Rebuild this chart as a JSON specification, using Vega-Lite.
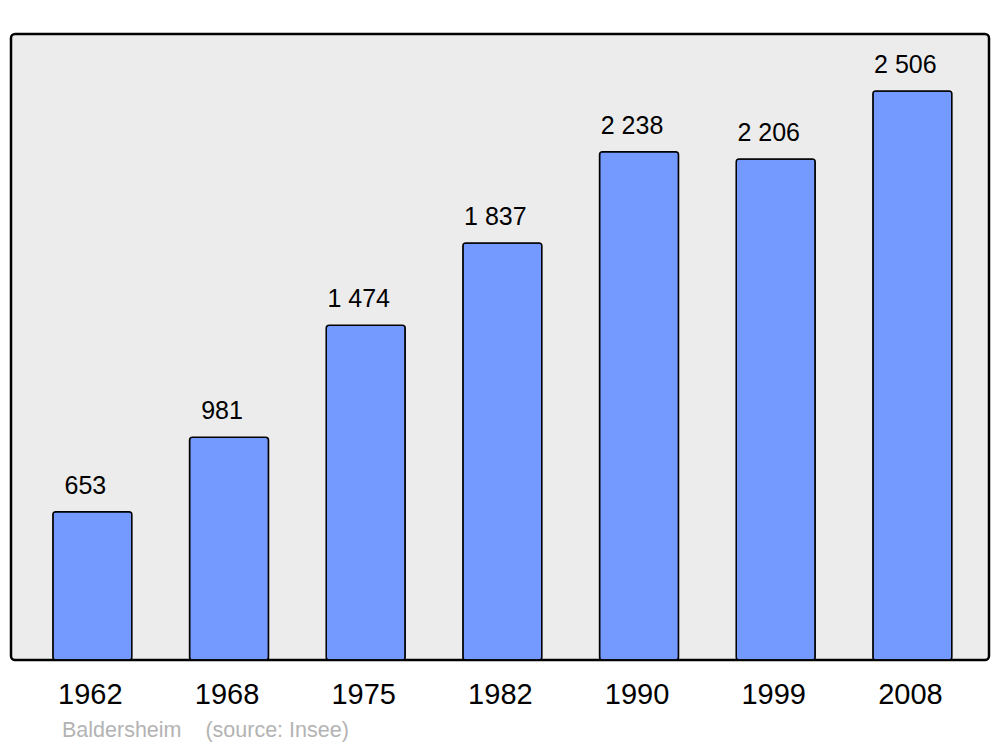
{
  "$schema": "https://vega.github.io/schema/vega-lite/v6.json",
  "width": 978,
  "height": 626,
  "autosize": {"type": "none"},
  "padding": {"left": 11, "top": 34, "right": 11, "bottom": 87},
  "background": "white",
  "config": {
    "font": "Liberation Sans",
    "view": {"fill": "#ececec", "stroke": "black", "strokeWidth": 2.5, "cornerRadius": 4},
    "locale": {"number": {"decimal": ",", "thousands": " ", "grouping": [3], "currency": ["", " €"]}}
  },
  "title": {
    "text": "Baldersheim\u00a0\u00a0\u00a0\u00a0(source: Insee)",
    "orient": "bottom",
    "anchor": "start",
    "dx": 51,
    "offset": 11,
    "fontSize": 21.5,
    "fontWeight": "normal",
    "color": "#b3b3b3",
    "font": "Liberation Sans"
  },
  "data": {
    "values": [
      {"year": "1962", "population": 653},
      {"year": "1968", "population": 981},
      {"year": "1975", "population": 1474},
      {"year": "1982", "population": 1837},
      {"year": "1990", "population": 2238},
      {"year": "1999", "population": 2206},
      {"year": "2008", "population": 2506}
    ]
  },
  "encoding": {
    "x": {
      "field": "year",
      "type": "ordinal",
      "sort": null,
      "scale": {"paddingInner": 0.422, "paddingOuter": 0.289, "align": 0.53},
      "axis": {
        "title": null,
        "ticks": false,
        "domain": false,
        "labelAngle": 0,
        "labelFontSize": 29,
        "labelColor": "black",
        "labelPadding": 20,
        "labelFont": "Liberation Sans",
        "labelOffset": -2
      }
    },
    "y": {
      "field": "population",
      "type": "quantitative",
      "scale": {"domain": [0, 2757], "nice": false},
      "axis": null
    }
  },
  "layer": [
    {
      "mark": {"type": "bar", "fill": "#7499ff", "stroke": "black", "strokeWidth": 1.5, "cornerRadius": 3}
    },
    {
      "mark": {"type": "text", "baseline": "bottom", "dy": -13, "dx": -7, "fontSize": 25, "color": "black", "font": "Liberation Sans"},
      "encoding": {
        "text": {"field": "population", "type": "quantitative", "format": ",d"}
      }
    }
  ]
}
